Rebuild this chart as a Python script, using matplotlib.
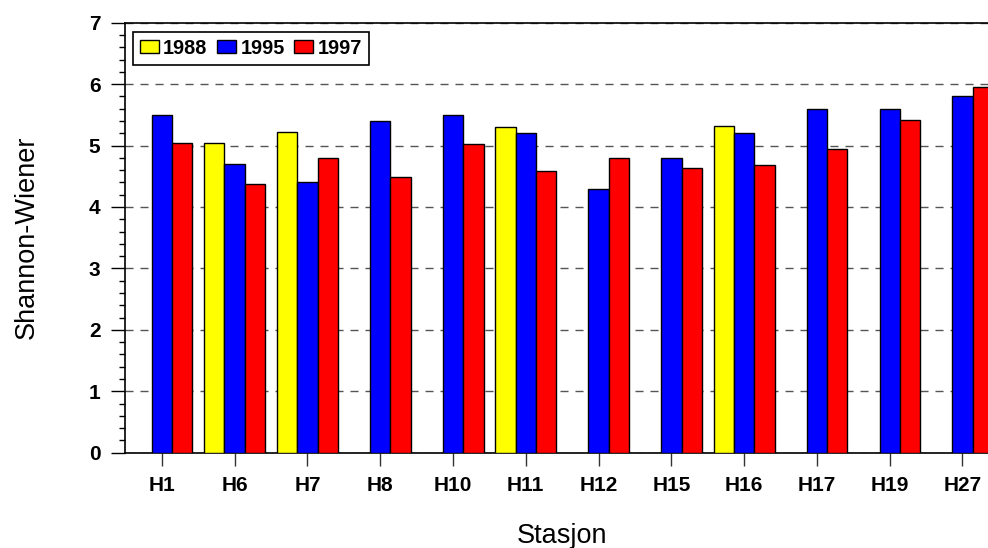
import matplotlib
import numpy as np

matplotlib.use('Agg')
import matplotlib.pyplot as plt
import matplotlib.ticker as mticker

plt.rcParams['font.family'] = ['Liberation Sans', 'DejaVu Sans']

# ── data ─────────────────────────────────────────────────────────────────────

stations = ['H1', 'H6', 'H7', 'H8', 'H10', 'H11', 'H12', 'H15', 'H16', 'H17', 'H19', 'H27']
years = ['1988', '1995', '1997']
v1988 = [np.nan, 5.04, 5.22, np.nan, np.nan, 5.30, np.nan, np.nan, 5.31, np.nan, np.nan, np.nan]
v1995 = [5.50, 4.70, 4.40, 5.40, 5.50, 5.20, 4.30, 4.80, 5.20, 5.60, 5.60, 5.80]
v1997 = [5.04, 4.38, 4.80, 4.48, 5.02, 4.59, 4.80, 4.64, 4.69, 4.94, 5.42, 5.95]

_COLORS = ['#ffff00', '#0000ff', '#ff0000']
_GRID = '#555555'

# ── chart ────────────────────────────────────────────────────────────────────

fig = plt.figure(figsize=(9.88, 5.48), dpi=100)
ax = fig.add_axes([0.127, 0.174, 0.884, 0.7846])

x = np.arange(len(stations))
width = 0.28
for i, (vals, year) in enumerate(zip([v1988, v1995, v1997], years)):
    ax.bar(x + (i - 1) * width, vals, width, color=_COLORS[i], edgecolor='black',
           linewidth=1.0, label=year, zorder=3)

ax.set_xlim(-0.5, len(stations) - 0.5)
ax.set_ylim(0, 7)
ax.set_xticks(x)
ax.set_xticklabels(stations, fontsize=15, fontweight='bold')
ax.yaxis.set_major_locator(mticker.MultipleLocator(1))
ax.yaxis.set_minor_locator(mticker.MultipleLocator(0.2))
for lbl in ax.get_yticklabels():
    lbl.set_fontsize(15)
    lbl.set_fontweight('bold')

ax.tick_params(axis='y', which='major', direction='out', length=10, width=1.0, pad=8)
ax.tick_params(axis='y', which='minor', direction='out', length=4.5, width=1.0)
ax.tick_params(axis='x', which='major', direction='out', length=9, width=1.0, pad=8,
               color='#333333')

ax.grid(axis='y', color=_GRID, linestyle=(0, (5.8, 5.0)), linewidth=1.0, zorder=1)

for side in ('left', 'bottom', 'top'):
    ax.spines[side].set_linewidth(1.2)
ax.spines['right'].set_visible(False)

ax.set_ylabel('Shannon-Wiener', fontsize=19.5, labelpad=35)
ax.set_xlabel('Stasjon', fontsize=19.5, labelpad=20)

leg = ax.legend(loc='upper left', bbox_to_anchor=(0.009, 0.979), ncol=3,
                prop={'size': 14.3, 'weight': 'bold'}, frameon=True, fancybox=False,
                edgecolor='black', framealpha=1.0, handlelength=0.95, handleheight=0.6,
                handletextpad=0.2, columnspacing=0.5, borderpad=0.35, borderaxespad=0.0)
leg.get_frame().set_linewidth(1.2)

fig.savefig('out.png', dpi=100)
